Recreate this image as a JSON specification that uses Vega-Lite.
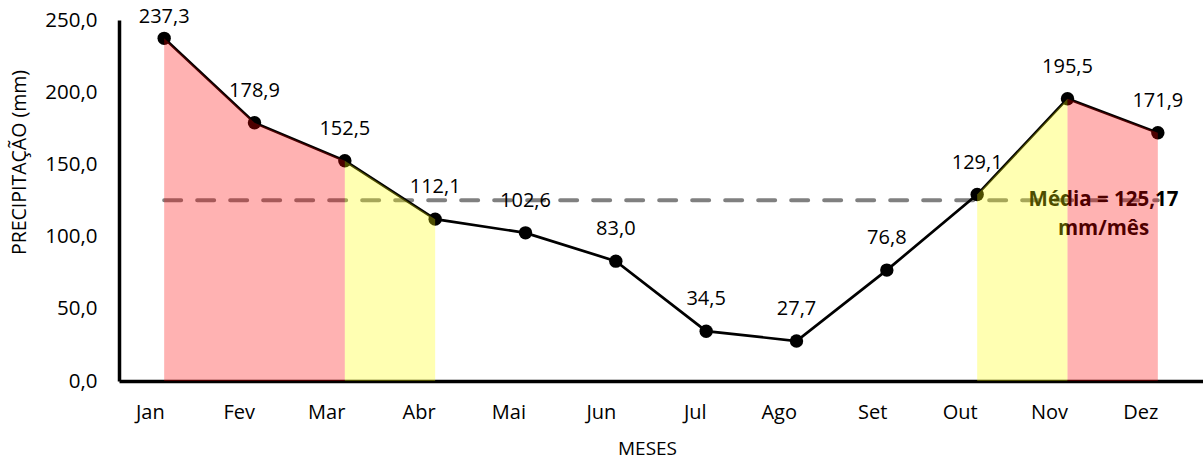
{
  "$schema": "https://vega.github.io/schema/vega-lite/v6.json",
  "width": 1084,
  "height": 361,
  "autosize": {"type": "none"},
  "padding": {"left": 119, "top": 20, "right": 0, "bottom": 79},
  "background": "white",
  "config": {
    "view": {"stroke": null},
    "font": "Open Sans",
    "locale": {"number": {"decimal": ",", "thousands": ".", "grouping": [3], "currency": ["R$ ", ""]}}
  },
  "datasets": {
    "meses": [
      {"mes": "Jan", "precip": 237.3},
      {"mes": "Fev", "precip": 178.9},
      {"mes": "Mar", "precip": 152.5},
      {"mes": "Abr", "precip": 112.1},
      {"mes": "Mai", "precip": 102.6},
      {"mes": "Jun", "precip": 83.0},
      {"mes": "Jul", "precip": 34.5},
      {"mes": "Ago", "precip": 27.7},
      {"mes": "Set", "precip": 76.8},
      {"mes": "Out", "precip": 129.1},
      {"mes": "Nov", "precip": 195.5},
      {"mes": "Dez", "precip": 171.9}
    ],
    "areas": [
      {"mes": "Jan", "precip": 237.3, "grupo": "g1", "cor": "acima"},
      {"mes": "Fev", "precip": 178.9, "grupo": "g1", "cor": "acima"},
      {"mes": "Mar", "precip": 152.5, "grupo": "g1", "cor": "acima"},
      {"mes": "Mar", "precip": 152.5, "grupo": "g2", "cor": "transicao"},
      {"mes": "Abr", "precip": 112.1, "grupo": "g2", "cor": "transicao"},
      {"mes": "Out", "precip": 129.1, "grupo": "g3", "cor": "transicao"},
      {"mes": "Nov", "precip": 195.5, "grupo": "g3", "cor": "transicao"},
      {"mes": "Nov", "precip": 195.5, "grupo": "g4", "cor": "acima"},
      {"mes": "Dez", "precip": 171.9, "grupo": "g4", "cor": "acima"}
    ],
    "media": [
      {"valor": 125.17}
    ]
  },
  "layer": [
    {
      "data": {"name": "media"},
      "mark": {"type": "rule", "color": "#808080", "strokeWidth": 4, "strokeDash": [17, 16], "strokeCap": "round"},
      "encoding": {
        "x": {"datum": "Jan", "type": "nominal"},
        "x2": {"datum": "Dez"},
        "y": {"field": "valor", "type": "quantitative"}
      }
    },
    {
      "data": {"name": "meses"},
      "mark": {"type": "line", "color": "black", "strokeWidth": 2.7},
      "encoding": {
        "x": {
          "field": "mes", "type": "nominal",
          "sort": ["Jan","Fev","Mar","Abr","Mai","Jun","Jul","Ago","Set","Out","Nov","Dez"],
          "scale": {"type": "point", "padding": 0.5, "domain": ["Jan","Fev","Mar","Abr","Mai","Jun","Jul","Ago","Set","Out","Nov","Dez"]},
          "axis": {
            "title": "MESES", "titleFontSize": 19, "titleFontWeight": "normal", "titleColor": "black",
            "titleX": 528, "titleY": 67, "titleBaseline": "middle",
            "labelAngle": 0, "labelFontSize": 20, "labelColor": "black", "labelPadding": 31,
            "ticks": false, "domainColor": "black", "domainWidth": 3.5, "grid": false
          }
        },
        "y": {
          "field": "precip", "type": "quantitative",
          "scale": {"domain": [0, 250], "nice": false},
          "axis": {
            "title": "PRECIPITAÇÃO (mm)", "titleFontSize": 19.5, "titleFontWeight": "normal", "titleColor": "black",
            "titleX": -100, "titleY": 142, "titleAngle": -90, "titleAlign": "center", "titleBaseline": "middle",
            "values": [0, 50, 100, 150, 200, 250], "format": ".1f",
            "labelFontSize": 20.5, "labelColor": "black", "labelPadding": 22,
            "ticks": false, "domainColor": "black", "domainWidth": 3.5, "grid": false
          }
        }
      }
    },
    {
      "data": {"name": "meses"},
      "mark": {"type": "point", "filled": true, "color": "black", "size": 180, "opacity": 1},
      "encoding": {
        "x": {"field": "mes", "type": "nominal", "sort": ["Jan","Fev","Mar","Abr","Mai","Jun","Jul","Ago","Set","Out","Nov","Dez"]},
        "y": {"field": "precip", "type": "quantitative"}
      }
    },
    {
      "data": {"name": "meses"},
      "mark": {"type": "text", "fontSize": 20, "color": "black", "dy": {"expr": "datum.precip > 230 ? -21 : -32"}, "baseline": "middle"},
      "encoding": {
        "x": {"field": "mes", "type": "nominal", "sort": ["Jan","Fev","Mar","Abr","Mai","Jun","Jul","Ago","Set","Out","Nov","Dez"]},
        "y": {"field": "precip", "type": "quantitative"},
        "text": {"field": "precip", "type": "quantitative", "format": ".1f"}
      }
    },
    {
      "data": {"name": "media"},
      "mark": {"type": "text", "text": ["Média = 125,17", "mm/mês"], "fontSize": 20.5, "fontWeight": "bold", "color": "black", "dx": 36, "baseline": "middle", "lineHeight": 29},
      "encoding": {
        "x": {"datum": "Nov", "type": "nominal"},
        "y": {"field": "valor", "type": "quantitative"}
      }
    },
    {
      "data": {"name": "areas"},
      "mark": {"type": "area", "opacity": 0.3},
      "encoding": {
        "x": {"field": "mes", "type": "nominal", "sort": ["Jan","Fev","Mar","Abr","Mai","Jun","Jul","Ago","Set","Out","Nov","Dez"]},
        "y": {"field": "precip", "type": "quantitative", "stack": null},
        "y2": {"datum": 0},
        "detail": {"field": "grupo", "type": "nominal"},
        "color": {"field": "cor", "type": "nominal", "scale": {"domain": ["acima", "transicao"], "range": ["#FF0000", "#FFFF00"]}, "legend": null}
      }
    }
  ]
}
